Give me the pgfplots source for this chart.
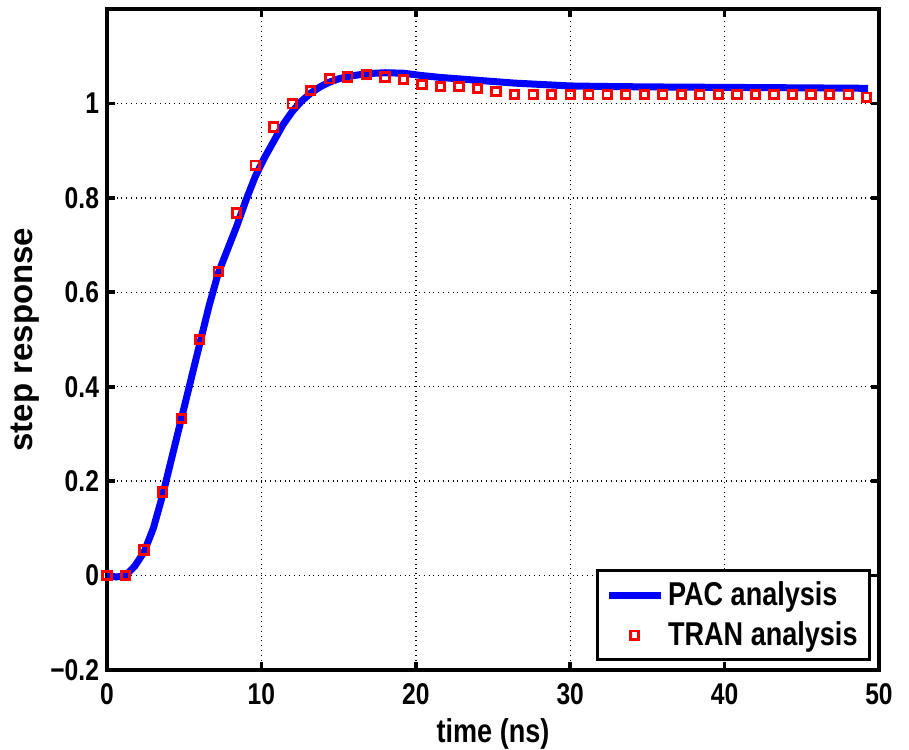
\documentclass[border=0pt]{standalone}
\usepackage{fontspec}
\setmainfont{Liberation Sans}[FakeStretch=0.82]
\newfontfamily\ylabfont{Liberation Sans}
\usepackage{pgfplots}
\pgfplotsset{compat=1.18}

\begin{document}
\begin{tikzpicture}
\begin{axis}[
  scale only axis, width=386pt, height=330.5pt,
  xmin=0, xmax=50, ymin=-0.2, ymax=1.2,
  xtick={0,10,...,50},
  ytick={-0.2,0,0.2,0.4,0.6,0.8,1},
  yticklabels={{\char"2212}0.2,0,0.2,0.4,0.6,0.8,1},
  /pgf/number format/assume math mode=true,
  tick label style={font=\fontsize{15}{17}\selectfont\bfseries},
  xticklabel style={yshift=-3pt},
  yticklabel style={xshift=-0.5pt},
  xlabel={time (ns)}, ylabel={step response},
  xlabel style={font=\fontsize{16.5}{18}\selectfont\bfseries,
    at={(axis description cs:0.5,0)}, anchor=center, yshift=-32pt},
  ylabel style={font=\fontsize{16.5}{18}\selectfont\ylabfont\bfseries,
    at={(axis description cs:0,0.5)}, anchor=center, yshift=41pt},
  axis line style={line width=1.8pt},
  tick style={line width=1.8pt, black},
  major tick length=4pt,
  tick align=inside, tick pos=both,
  grid=major, grid style={dotted, line width=0.7pt, black},
  legend style={at={(1,0)}, anchor=south east, xshift=-4pt, yshift=4.5pt,
    draw=black, line width=1.4pt, fill=white,
    font=\fontsize{16.5}{19}\selectfont\bfseries,
    inner xsep=4pt, inner ysep=3.5pt, row sep=2.5pt},
  legend cell align=left,
  legend image code/.code={\draw[mark repeat=2,mark phase=2,#1] plot coordinates {(0pt,0pt) (13pt,0pt) (26pt,0pt)};},
]
\addplot[blue, line width=3.5pt] coordinates {
(0,0) (0.6,-0.003) (1.2,0.0) (1.8,0.02) (2.4,0.05) (3.0,0.10) (3.6,0.17)
(4.2,0.25) (4.8,0.33) (5.4,0.41) (6.0,0.49) (6.6,0.57) (7.2,0.64) (7.8,0.69)
(8.4,0.74) (9.0,0.795) (9.6,0.845) (10.2,0.885) (10.8,0.92) (11.4,0.955)
(12,0.983) (12.6,1.005) (13.2,1.022) (13.8,1.035) (14.4,1.045) (15.0,1.052)
(15.6,1.057) (16.8,1.063) (18,1.065) (19.2,1.064) (20.4,1.059) (21.6,1.055)
(22.8,1.052) (24,1.049) (25.2,1.046) (26.4,1.043) (27.6,1.041) (28.8,1.039)
(30,1.037) (32,1.036) (35,1.035) (40,1.034) (45,1.033) (49.3,1.032)
};
\addlegendentry{PAC analysis}
\addplot[only marks, red, mark=square, mark size=2.1pt, line width=1.4pt] coordinates {
(0,0) (1.2,0) (2.4,0.054) (3.6,0.177) (4.8,0.333) (6.0,0.50) (7.2,0.644)
(8.4,0.768) (9.6,0.869) (10.8,0.95) (12,0.999) (13.2,1.027) (14.4,1.052)
(15.6,1.056) (16.8,1.061) (18,1.056) (19.2,1.051) (20.4,1.040) (21.6,1.036)
(22.8,1.036) (24,1.032) (25.2,1.025) (26.4,1.019) (27.6,1.019) (28.8,1.019)
(30,1.019) (31.2,1.019) (32.4,1.019) (33.6,1.019) (34.8,1.019) (36,1.019)
(37.2,1.019) (38.4,1.019) (39.6,1.019) (40.8,1.019) (42,1.019) (43.2,1.019)
(44.4,1.019) (45.6,1.019) (46.8,1.019) (48,1.019) (49.2,1.013)
};
\addlegendentry{TRAN analysis}
\end{axis}
\pgfresetboundingbox
\path ([shift={(-53.5pt,-39.5pt)}]current axis.south west) rectangle ([shift={(15pt,4.5pt)}]current axis.north east);
\end{tikzpicture}
\end{document}
